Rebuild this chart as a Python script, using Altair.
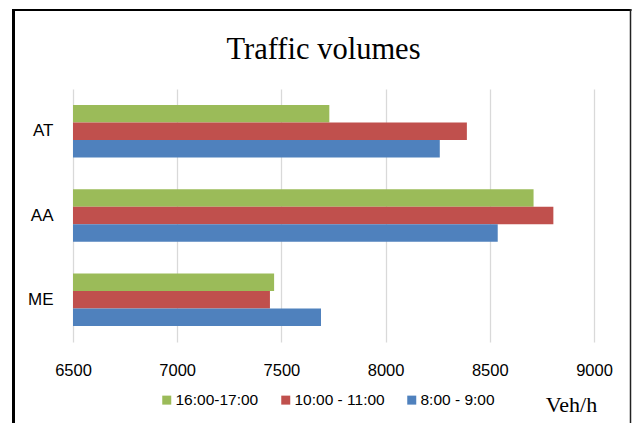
import altair as alt
import pandas as pd

sites = ["AT", "AA", "ME"]
periods = ["16:00-17:00", "10:00 - 11:00", "8:00 - 9:00"]
v_1600 = [7730, 8710, 7465]
v_1000 = [8390, 8805, 7445]
v_0800 = [8260, 8538, 7690]
colors = ["#9BBB59", "#C0504D", "#4F81BD"]
ticks = [6500, 7000, 7500, 8000, 8500, 9000]
title_text = ["Traffic volumes"]
unit = "Veh/h"

rows = []
for i, s in enumerate(sites):
    for p, vals in zip(periods, [v_1600, v_1000, v_0800]):
        rows.append({"site": s, "period": p, "volume": vals[i]})
df = pd.DataFrame(rows)

W, H = 521, 253

bars = alt.Chart(df).mark_bar().encode(
    y=alt.Y("site:N", sort=sites,
            scale=alt.Scale(paddingInner=0.375, paddingOuter=0.19),
            axis=alt.Axis(title=None, labelFont="Liberation Sans", labelFontSize=17,
                          labelColor="black", labelPadding=20, ticks=False, tickSize=0,
                          domain=False, grid=False)),
    yOffset=alt.YOffset("period:N", sort=periods,
                        scale=alt.Scale(paddingInner=0, paddingOuter=0)),
    x=alt.X("volume:Q", scale=alt.Scale(domain=[6500, 9000], zero=False, nice=False),
            axis=alt.Axis(values=ticks, format="d", title=unit, labelFlush=False,
                          labelFont="Liberation Sans", labelFontSize=16.5, labelColor="black",
                          labelPadding=20, ticks=False, tickSize=0, domain=False,
                          grid=True, gridColor="#D9D9D9", gridWidth=1.3,
                          titleFont="Liberation Serif", titleFontSize=22,
                          titleFontWeight="normal", titleColor="black",
                          titleX=498, titleY=69, titleAlign="center",
                          titleBaseline="alphabetic")),
    x2=alt.datum(6500),
    color=alt.Color("period:N", sort=periods,
                    scale=alt.Scale(domain=periods, range=colors),
                    legend=alt.Legend(orient="none", legendX=86, legendY=303,
                                      direction="horizontal", title=None,
                                      symbolType="square", symbolSize=81,
                                      symbolStrokeWidth=0, labelFont="Liberation Sans",
                                      labelFontSize=15.5, labelColor="black",
                                      labelOffset=1, columnPadding=19, padding=0)),
)

title_mark = alt.Chart(pd.DataFrame({"t": title_text})).mark_text(
    font="Liberation Serif", fontSize=30.5, baseline="alphabetic", align="center", color="black"
).encode(x=alt.value(250.5), y=alt.value(-30), text="t:N")

one = pd.DataFrame({"k": [0]})
frame_left = alt.Chart(one).mark_rule(color="black", strokeWidth=3).encode(
    x=alt.value(-59.5), y=alt.value(-80), y2=alt.value(340))
frame_top = alt.Chart(one).mark_rule(color="black", strokeWidth=2).encode(
    x=alt.value(-61), x2=alt.value(558.5), y=alt.value(-79))
frame_right = alt.Chart(one).mark_rule(color="#222222", strokeWidth=1.5).encode(
    x=alt.value(557.5), y=alt.value(-80), y2=alt.value(340))

chart = alt.layer(bars, title_mark, frame_left, frame_top, frame_right).properties(
    width=W, height=H,
    padding={"left": 73, "top": 89, "right": 39, "bottom": 81},
    autosize=alt.AutoSizeParams(type="none"),
    background="white",
).configure_view(stroke=None)

chart.save("out.html", embed_options={"renderer": "svg", "actions": False})
